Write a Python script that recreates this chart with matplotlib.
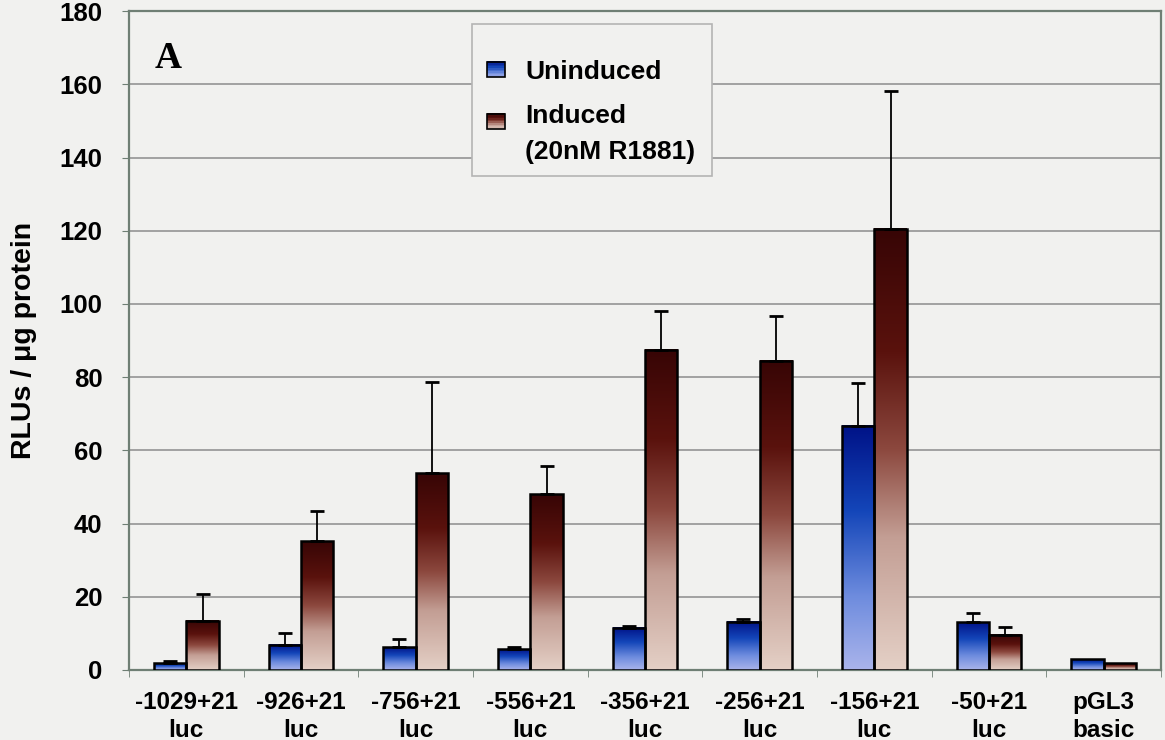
import numpy as np
import matplotlib
matplotlib.use('Agg')
import matplotlib.pyplot as plt
from matplotlib.colors import LinearSegmentedColormap
from matplotlib.patches import Rectangle
from matplotlib.legend_handler import HandlerBase

plt.rcParams['font.family'] = ['Liberation Sans', 'DejaVu Sans']
plt.rcParams['font.weight'] = 'bold'

constructs = ['-1029+21\nluc', '-926+21\nluc', '-756+21\nluc', '-556+21\nluc',
              '-356+21\nluc', '-256+21\nluc', '-156+21\nluc', '-50+21\nluc',
              'pGL3\nbasic']
uninduced = [1.9, 6.9, 6.2, 5.6, 11.5, 13.2, 66.7, 13.1, 2.9]
uninduced_err = [0.5, 3.2, 2.3, 0.7, 0.5, 0.8, 11.7, 2.4, 0.0]
induced = [13.5, 35.2, 53.7, 48.0, 87.5, 84.5, 120.5, 9.6, 1.8]
induced_err = [7.2, 8.2, 24.9, 7.6, 10.6, 12.3, 37.7, 2.2, 0.0]

bg = '#f1f1ef'
spine_col = '#6f7f74'
blue_cm = LinearSegmentedColormap.from_list('blue_grad', [
    (0.0, (170/255, 180/255, 235/255)),
    (0.3, (110/255, 140/255, 222/255)),
    (0.65, (20/255, 70/255, 185/255)),
    (1.0, (0/255, 18/255, 135/255))])
red_cm = LinearSegmentedColormap.from_list('red_grad', [
    (0.0, (228/255, 208/255, 198/255)),
    (0.3, (195/255, 158/255, 148/255)),
    (0.5, (140/255, 72/255, 62/255)),
    (0.72, (90/255, 18/255, 13/255)),
    (1.0, (55/255, 5/255, 5/255))])

fig = plt.figure(figsize=(11.65, 7.4), dpi=100, facecolor=bg)
ax = fig.add_axes([0.1107, 0.0946, 0.8859, 0.8904], facecolor=bg)

x = np.arange(len(constructs))
w = 0.283
bars_u = ax.bar(x - w/2, uninduced, w, facecolor='none', edgecolor='black', linewidth=1.8, zorder=4)
bars_i = ax.bar(x + w/2, induced, w, facecolor='none', edgecolor='black', linewidth=1.8, zorder=4)

# vertical colour ramp inside each bar
grad = np.linspace(0, 1, 256).reshape(-1, 1)
for bars, cm in [(bars_u, blue_cm), (bars_i, red_cm)]:
    for b in bars:
        x0, h, bw = b.get_x(), b.get_height(), b.get_width()
        ax.imshow(grad, cmap=cm, origin='lower', aspect='auto',
                  extent=[x0, x0 + bw, 0, h], zorder=3, interpolation='bilinear')

# upper error bars only
for xs, vals, errs in [(x - w/2, uninduced, uninduced_err), (x + w/2, induced, induced_err)]:
    for xi, v, e in zip(xs, vals, errs):
        if e > 0:
            ax.errorbar(xi, v, yerr=[[0], [e]], fmt='none', ecolor='black',
                        elinewidth=1.3, capsize=5, capthick=2, zorder=5)

ax.set_xlim(-0.5, len(constructs) - 0.5)
ax.set_ylim(0, 180)
ax.set_yticks(np.arange(0, 181, 20))
ax.yaxis.grid(True, color='#8c8c8c', linewidth=1.1)
ax.set_axisbelow(True)

ax.set_xticks(x)
ax.set_xticklabels(constructs, fontsize=17.5, fontweight='bold', linespacing=1.3)
ax.set_xticks(np.arange(-0.5, len(constructs), 1), minor=True)
ax.tick_params(axis='x', which='major', length=0, pad=15)
ax.tick_params(axis='x', which='minor', length=5, color=spine_col)
ax.tick_params(axis='y', labelsize=18.5, length=5, color=spine_col, pad=14)
for lab in ax.get_yticklabels():
    lab.set_fontweight('bold')

for s in ax.spines.values():
    s.set_color(spine_col)
    s.set_linewidth(1.6)

ax.set_ylabel('RLUs / \u03bcg protein', fontsize=20.5, fontweight='bold', labelpad=16)

ax.text(0.025, 0.955, 'A', transform=ax.transAxes, fontsize=27, fontweight='bold',
        family='Liberation Serif', va='top', ha='left')


class GradHandler(HandlerBase):
    def __init__(self, cmap, yshift=0.0):
        super().__init__()
        self.cmap = cmap
        self.yshift = yshift

    def create_artists(self, legend, orig_handle, xdescent, ydescent, width, height, fontsize, trans):
        n = 10
        y0 = -ydescent + self.yshift
        out = []
        for k in range(n):
            out.append(Rectangle((-xdescent, y0 + height * k / n), width, height / n + 0.3,
                                 facecolor=self.cmap((k + 0.5) / n), edgecolor='none', transform=trans))
        out.append(Rectangle((-xdescent, y0), width, height, facecolor='none',
                             edgecolor='black', linewidth=1.2, transform=trans))
        return out


# legend box drawn separately so the padding can be set freely
ax.add_patch(Rectangle((0.3324, 0.750), 0.2326, 0.230, transform=ax.transAxes,
                       facecolor=bg, edgecolor='#b4b4b4', linewidth=1.2, zorder=6))
h_u = Rectangle((0, 0), 1, 1)
h_i = Rectangle((0, 0), 1, 1)
leg = ax.legend([h_u, h_i], ['Uninduced', 'Induced\n(20nM R1881)'],
                handler_map={h_u: GradHandler(blue_cm), h_i: GradHandler(red_cm, yshift=9)},
                loc='upper left', bbox_to_anchor=(0.3469, 0.926), prop={'size': 19, 'weight': 'bold'},
                frameon=False, handlelength=0.7, handleheight=0.55, handletextpad=0.75,
                borderpad=0, labelspacing=0.75, borderaxespad=0)
leg.set_zorder(7)
for t in leg.get_texts():
    t.set_linespacing(1.65)

fig.savefig('out.png', dpi=100, facecolor=bg)
